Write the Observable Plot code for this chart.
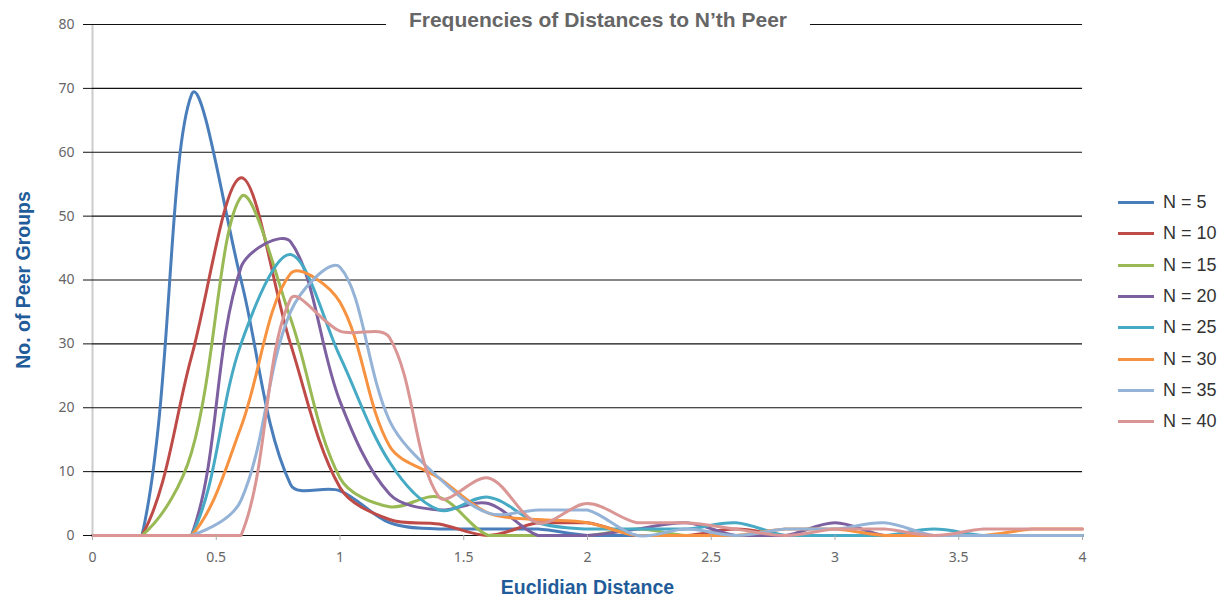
<!DOCTYPE html>
<html><head><meta charset="utf-8">
<script src="https://cdn.jsdelivr.net/npm/d3@7"></script>
<script src="https://cdn.jsdelivr.net/npm/@observablehq/plot@0.6"></script>
<style>
body{margin:0;background:#fff;font-family:"Liberation Sans",Arial,sans-serif;}
#wrap{position:relative;width:1230px;height:601px;overflow:hidden;}
#title{position:absolute;left:386px;top:6px;width:424px;text-align:center;background:#fff;font:bold 21px "Liberation Sans Narrow","Liberation Sans",sans-serif;color:#666;line-height:27px;}
#legend{position:absolute;left:1118px;top:187px;}
.item{display:flex;align-items:center;height:31.3px;font-size:18px;color:#333;}
.sw{width:36px;height:3px;margin-right:9px;}
g[aria-label="x-axis label"] text, g[aria-label="y-axis label"] text{font:bold 19.5px "Liberation Sans",Arial,sans-serif;fill:#1f5c99;}
g[aria-label="x-axis tick label"] text, g[aria-label="y-axis tick label"] text{font-size:14px;fill:#666;}
</style></head>
<body><div id="wrap"></div>
<script>
const distances = [0,0.2,0.4,0.6,0.8,1.0,1.2,1.4,1.6,1.8,2.0,2.2,2.4,2.6,2.8,3.0,3.2,3.4,3.6,3.8,4.0];
const n5  = [0,0,69,40,8,7,2,1,1,1,0,0,0,0,0,0,0,0,0,0,0];
const n10 = [0,0,28,56,30,7.5,2.5,1.8,0,2,2,0,0,1,0,0,0,0,0,0,0];
const n15 = [0,0,13,53,34,9,4.5,6,0,0,0,1,0,0,0,0,0,0,0,0,0];
const n20 = [0,0,0,42,46,21,6.5,4,5,0,0,1,2,0,0,2,0,0,0,0,0];
const n25 = [0,0,0,30,44,28,11.5,4,6,2,1,1,1,2,0,0,0,1,0,0,0];
const n30 = [0,0,0,17,41,36.5,14,9,3.5,2.5,2,0,0,0,1,1,0,0,0,1,1];
const n35 = [0,0,0,5.5,35,42,18,9,3.5,4,4,0,1,0,1,1,2,0,0,0,0];
const n40 = [0,0,0,0,37,32,31,6,9,2,5,2,2,1,0,1,1,0,1,1,1];
const seriesNames = ["N = 5","N = 10","N = 15","N = 20","N = 25","N = 30","N = 35","N = 40"];
const seriesValues = [n5,n10,n15,n20,n25,n30,n35,n40];
const colors = ["#4A7EBB","#BE4B48","#98B954","#7D60A0","#46AAC5","#F69240","#95B3D7","#D99694"];
const xTicks = [0,0.5,1,1.5,2,2.5,3,3.5,4];
const yTicks = [0,10,20,30,40,50,60,70,80];
const title = "Frequencies of Distances to N\u2019th Peer";
const xLabel = "Euclidian Distance";
const yLabel = "No. of Peer Groups";

const data = [];
seriesNames.forEach((name, i) => {
  seriesValues[i].forEach((v, j) => data.push({series: name, x: distances[j], y: v}));
});

// Smoothed line: Bezier segments whose control offsets follow the neighbour chord,
// weighted by the adjacent chord lengths; flat runs stay flat (no dip).
function smoothCurve(context) {
  let pts;
  return {
    areaStart() {}, areaEnd() {},
    lineStart() { pts = []; },
    point(x, y) { pts.push([+x, +y]); },
    lineEnd() {
      const n = pts.length;
      if (!n) return;
      context.moveTo(pts[0][0], pts[0][1]);
      if (n === 1) return;
      const before = [], after = [];
      for (let i = 0; i < n; i++) {
        const p = pts[i], a = pts[Math.max(0, i - 1)], b = pts[Math.min(n - 1, i + 1)];
        const tx = b[0] - a[0], ty = b[1] - a[1];
        const dp = i > 0 ? Math.hypot(p[0] - a[0], p[1] - a[1]) : 0;
        const dn = i < n - 1 ? Math.hypot(b[0] - p[0], b[1] - p[1]) : 0;
        const s = (dp + dn) || 1;
        const bf = [tx * dp / s / 3, ty * dp / s / 3];
        const af = [tx * dn / s / 3, ty * dn / s / 3];
        if (i > 0 && Math.abs(a[1] - p[1]) < 1e-6) bf[1] = 0;
        if (i < n - 1 && Math.abs(b[1] - p[1]) < 1e-6) af[1] = 0;
        before.push(bf); after.push(af);
      }
      for (let i = 0; i < n - 1; i++) {
        const p = pts[i], q = pts[i + 1];
        context.bezierCurveTo(p[0] + after[i][0], p[1] + after[i][1],
                              q[0] - before[i + 1][0], q[1] - before[i + 1][1], q[0], q[1]);
      }
    }
  };
}

const chart = Plot.plot({
  width: 1230, height: 601,
  marginLeft: 92, marginRight: 148, marginTop: 24, marginBottom: 66,
  x: {domain: [0, 4]},
  y: {domain: [0, 80]},
  color: {domain: seriesNames, range: colors},
  marks: [
    Plot.ruleX([0], {stroke: "#ccc", strokeWidth: 2}),
    Plot.ruleY(yTicks, {stroke: "#111", strokeWidth: 1.2}),
    Plot.line(data, {x: "x", y: "y", z: "series", stroke: "series", strokeWidth: 3, curve: smoothCurve}),
    Plot.axisX(xTicks, {tickSize: 5, tickPadding: 12, stroke: "#aaa", tickFormat: d => String(d),
      label: xLabel, labelAnchor: "center", labelOffset: 58, labelArrow: "none"}),
    Plot.axisY(yTicks, {tickSize: 9, tickPadding: 9, stroke: "#111",
      label: yLabel, labelAnchor: "center", labelOffset: 76, labelArrow: "none"})
  ]
});
const wrap = document.getElementById("wrap");
wrap.appendChild(chart);
const t = document.createElement("div");
t.id = "title"; t.textContent = title;
wrap.appendChild(t);
const lg = document.createElement("div");
lg.id = "legend";
seriesNames.forEach((n, i) => {
  const it = document.createElement("div"); it.className = "item";
  const sw = document.createElement("span"); sw.className = "sw"; sw.style.background = colors[i];
  const tx = document.createElement("span"); tx.textContent = n;
  it.appendChild(sw); it.appendChild(tx); lg.appendChild(it);
});
wrap.appendChild(lg);
</script></body></html>
